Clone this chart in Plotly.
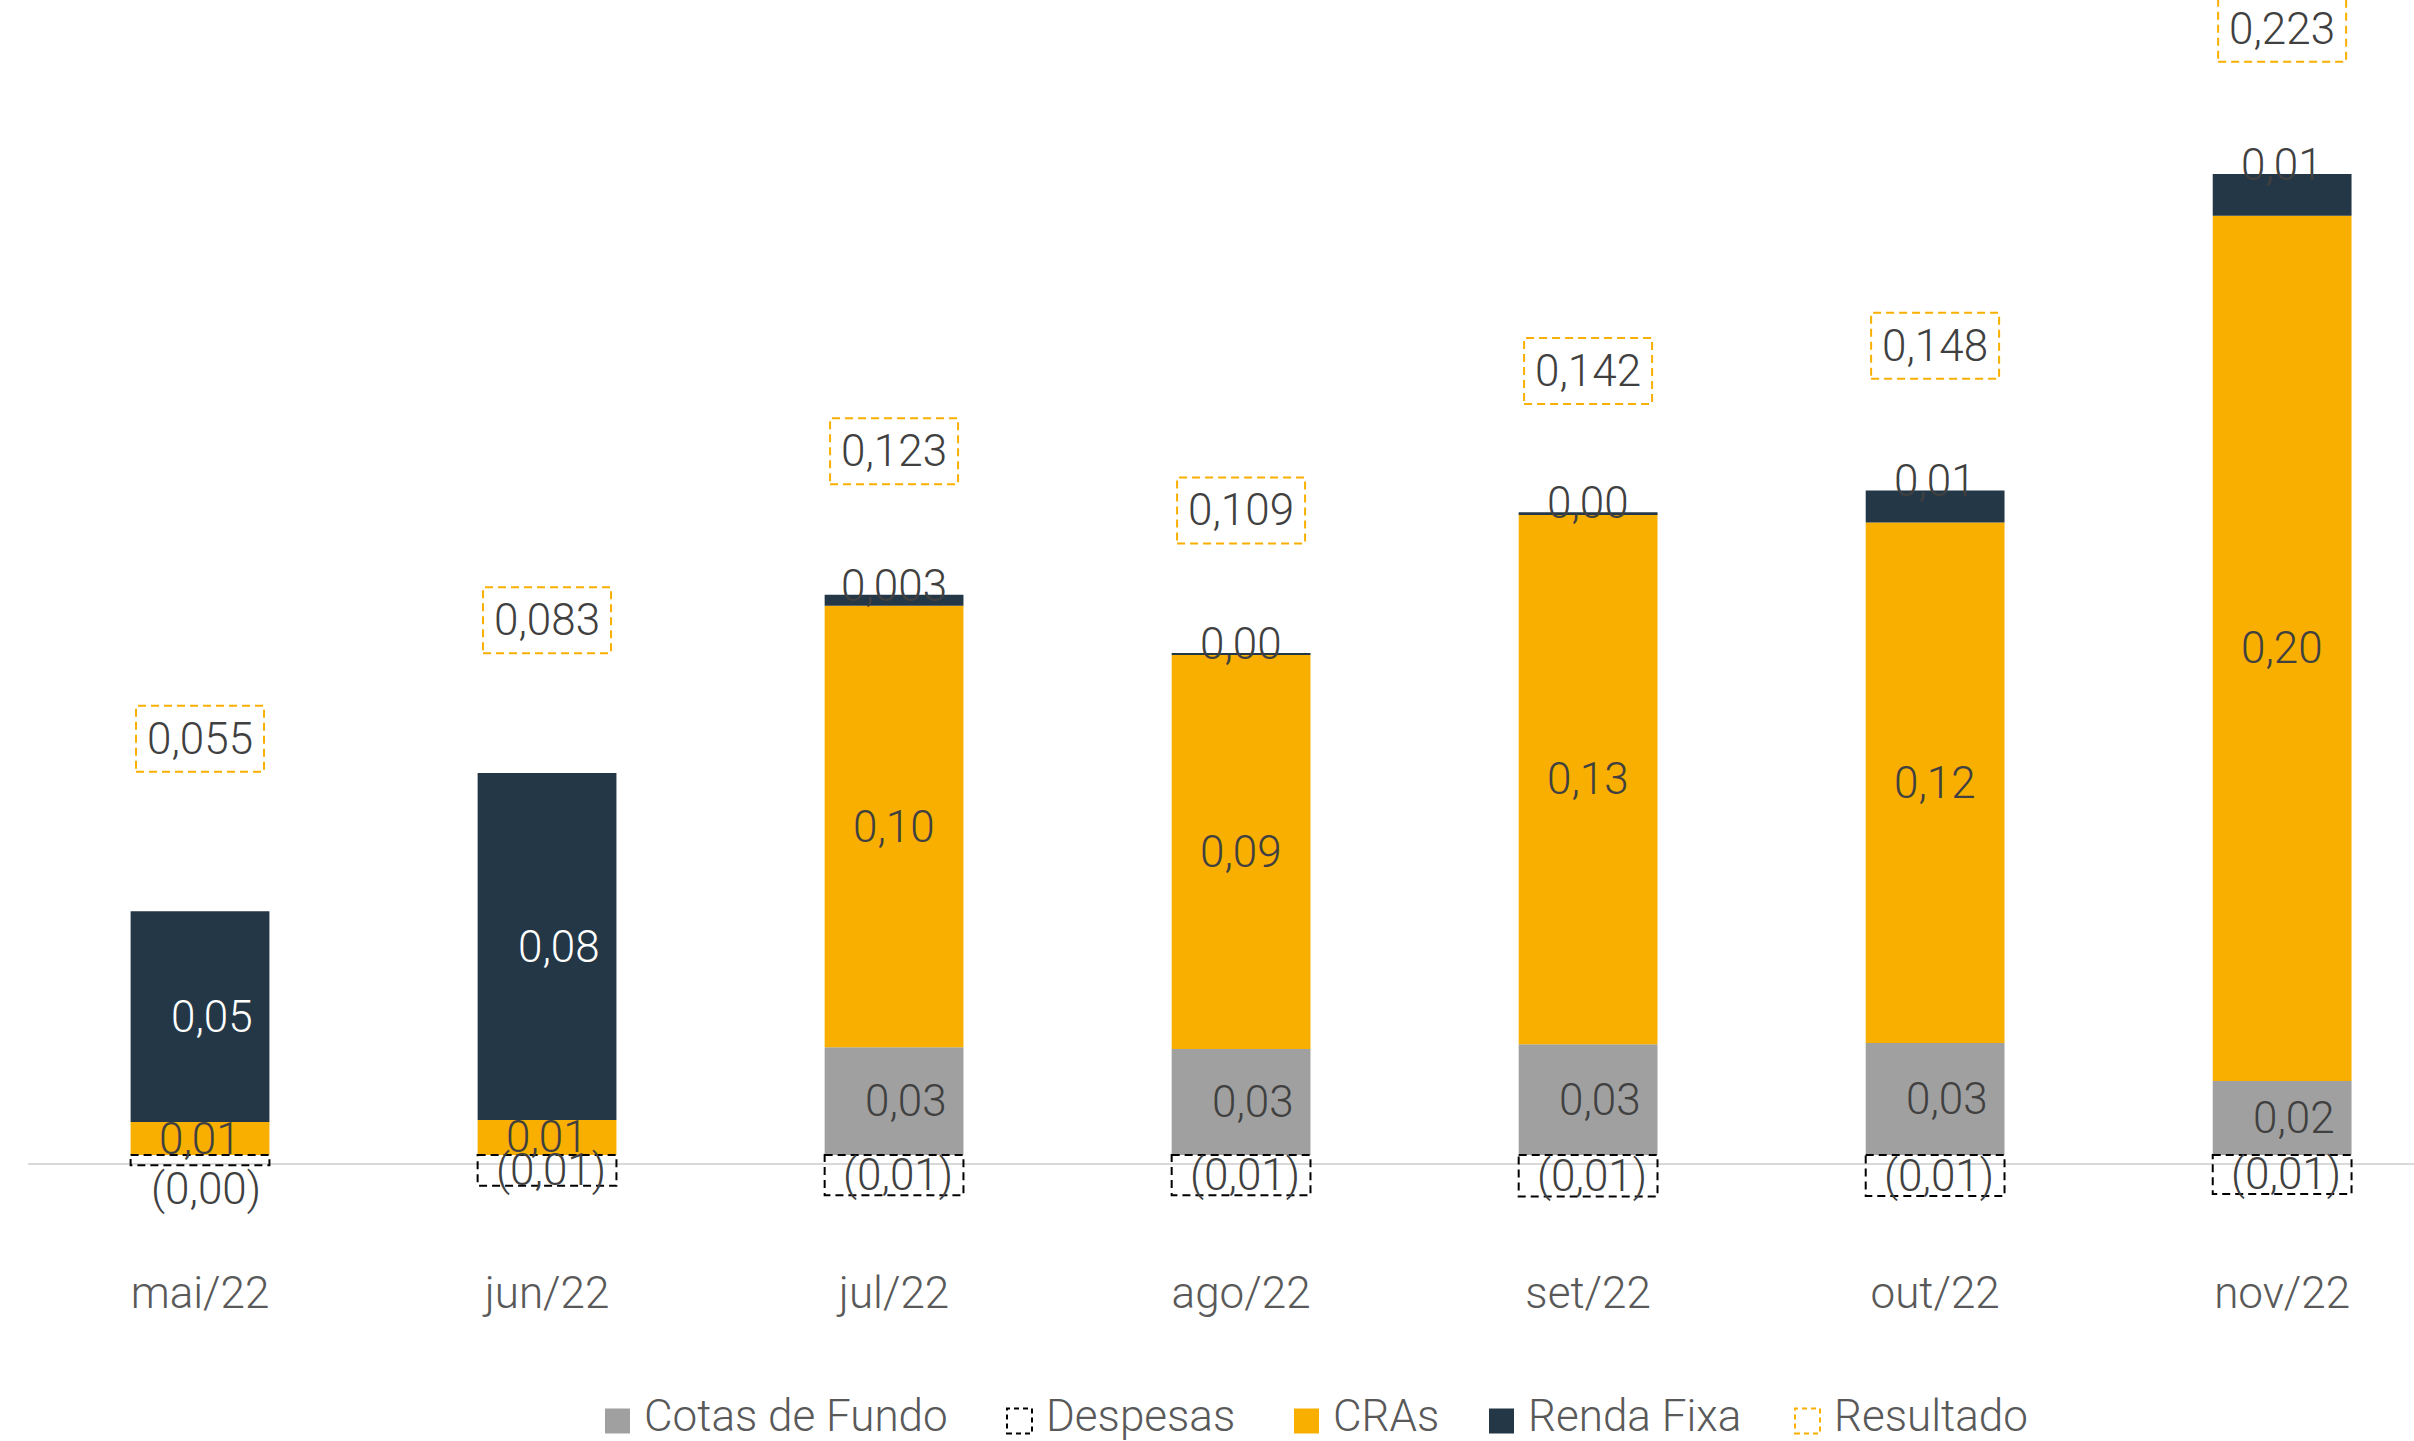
import plotly.graph_objects as go

# ---------------- data ----------------
months = ["mai/22", "jun/22", "jul/22", "ago/22", "set/22", "out/22", "nov/22"]
cotas_de_fundo = [0.0, 0.0, 0.0255, 0.0251, 0.0262, 0.0265, 0.0175]
despesas = [-0.0024, -0.0073, -0.0095, -0.0095, -0.0098, -0.0097, -0.0092]
cras = [0.0078, 0.0083, 0.1045, 0.0933, 0.1255, 0.1232, 0.2048]
renda_fixa = [0.0499, 0.0821, 0.0026, 0.0004, 0.0004, 0.0076, 0.0099]
resultado = [0.055, 0.083, 0.123, 0.109, 0.142, 0.148, 0.223]
renda_fixa_labels = ["0,05", "0,08", "0,003", "0,00", "0,00", "0,01", "0,01"]
legend_names = ["Cotas de Fundo", "Despesas", "CRAs", "Renda Fixa", "Resultado"]

# ---------------- style ----------------
W, H = 2414, 1441
ML, MR, MT, MB = 28, 0, 0, 178
PLOT_H = H - MT - MB
C_GRAY = "#A0A0A0"
C_ORANGE = "#F9AF00"
C_NAVY = "#243746"
C_LABEL = "#404040"
C_TICK = "#595959"
FONT = "Roboto Light, Roboto, sans-serif"
FS = 44
BAR_W = 0.4
Y_RANGE = [-0.02556, 0.27337]
X_RANGE = [-0.4957, 6.380]
AXIS_LINE_Y = -0.00213
RES_SHIFT = 184


def br(v, d=2):
    s = f"{abs(v):.{d}f}".replace(".", ",")
    return f"({s})" if v < 0 else s


def lab(x, y, text, color=C_LABEL, **kw):
    return dict(x=x, y=y, xref="x", yref="y", text=text, showarrow=False,
                font=dict(family=FONT, size=FS, color=color, weight=300), **kw)


x_idx = list(range(len(months)))

fig = go.Figure()
fig.add_trace(go.Bar(x=x_idx, y=cotas_de_fundo, name="Cotas de Fundo", marker_color=C_GRAY,
                     width=BAR_W, marker_line_width=0))
fig.add_trace(go.Bar(x=x_idx, y=despesas, name="Despesas", marker_color="rgba(255,255,255,0)",
                     width=BAR_W, marker_line_width=0))
fig.add_trace(go.Bar(x=x_idx, y=cras, name="CRAs", marker_color=C_ORANGE,
                     width=BAR_W, marker_line_width=0))
fig.add_trace(go.Bar(x=x_idx, y=renda_fixa, name="Renda Fixa", marker_color=C_NAVY,
                     width=BAR_W, marker_line_width=0))

annotations = []
shapes = []

# baseline (category axis line)
shapes.append(dict(type="line", xref="paper", yref="y", x0=0, x1=1,
                   y0=AXIS_LINE_Y, y1=AXIS_LINE_Y, line=dict(color="#D9D9D9", width=2),
                   layer="below"))

for i in x_idx:
    c, d, r, f, res = cotas_de_fundo[i], despesas[i], cras[i], renda_fixa[i], resultado[i]
    # Cotas de fundo
    if c > 0:
        annotations.append(lab(i, c / 2, br(c), xshift=12))
    # CRAs
    annotations.append(lab(i, c + r / 2, br(r)))
    # Renda fixa
    base = c + r
    if f >= 0.02:
        annotations.append(lab(i, base + f / 2, renda_fixa_labels[i], color="white", xshift=12))
    else:
        annotations.append(lab(i, base + f, renda_fixa_labels[i], yanchor="middle", yshift=9))
    # Despesas (dashed box)
    shapes.append(dict(type="rect", xref="x", yref="y", x0=i - BAR_W / 2, x1=i + BAR_W / 2,
                       y0=0, y1=d, line=dict(color="black", width=2, dash="8px,5px"),
                       fillcolor="rgba(0,0,0,0)", layer="above"))
    if abs(d) >= 0.005:
        annotations.append(lab(i, d / 2, br(d), xshift=4))
    else:
        annotations.append(lab(i, d, br(d), yanchor="top", yshift=4, xshift=6))
    # Resultado label with dashed box
    annotations.append(lab(i, res, br(res, 3), yshift=RES_SHIFT))
    shapes.append(dict(type="rect", xref="x", yref="y", xsizemode="pixel", ysizemode="pixel",
                       xanchor=i, yanchor=res, x0=-64, x1=64,
                       y0=RES_SHIFT - 33, y1=RES_SHIFT + 33,
                       line=dict(color=C_ORANGE, width=2, dash="8px,5px"),
                       fillcolor="rgba(0,0,0,0)", layer="above"))

# ---------------- custom legend ----------------
def px_x(p):
    return (p - ML) / (W - ML - MR)


def px_y(p):
    return (MT + PLOT_H - p) / PLOT_H


leg_left = [605, 1007, 1294, 1489, 1795]
leg_style = [
    dict(fillcolor=C_GRAY, line=dict(width=0)),
    dict(fillcolor="rgba(0,0,0,0)", line=dict(color="black", width=2, dash="5px,4px")),
    dict(fillcolor=C_ORANGE, line=dict(width=0)),
    dict(fillcolor=C_NAVY, line=dict(width=0)),
    dict(fillcolor="rgba(0,0,0,0)", line=dict(color=C_ORANGE, width=2, dash="5px,4px")),
]
LEG_Y = 1421
SQ = 25
for name, lx, st in zip(legend_names, leg_left, leg_style):
    shapes.append(dict(type="rect", xref="paper", yref="paper",
                       x0=px_x(lx), x1=px_x(lx + SQ), y0=px_y(LEG_Y + SQ / 2), y1=px_y(LEG_Y - SQ / 2),
                       layer="above", **st))
    annotations.append(dict(x=px_x(lx + 37), y=px_y(LEG_Y - 5), xref="paper", yref="paper",
                            xanchor="left", yanchor="middle", text=name, showarrow=False,
                            font=dict(family=FONT, size=FS, color=C_TICK, weight=300)))

fig.update_layout(
    width=W, height=H,
    margin=dict(l=ML, r=MR, t=MT, b=MB, pad=0),
    barmode="relative",
    showlegend=False,
    plot_bgcolor="white", paper_bgcolor="white",
    xaxis=dict(range=X_RANGE, tickvals=x_idx, ticktext=months, showgrid=False, zeroline=False,
               showline=False, ticks="", tickfont=dict(family=FONT, size=FS, color=C_TICK, weight=300)),
    yaxis=dict(range=Y_RANGE, visible=False, showgrid=False, zeroline=False),
    annotations=annotations,
    shapes=shapes,
    hovermode=False,
)

fig.write_html("out.html", config={"displayModeBar": False},
               post_script="document.body.style.margin='0';document.body.style.overflow='hidden';")
